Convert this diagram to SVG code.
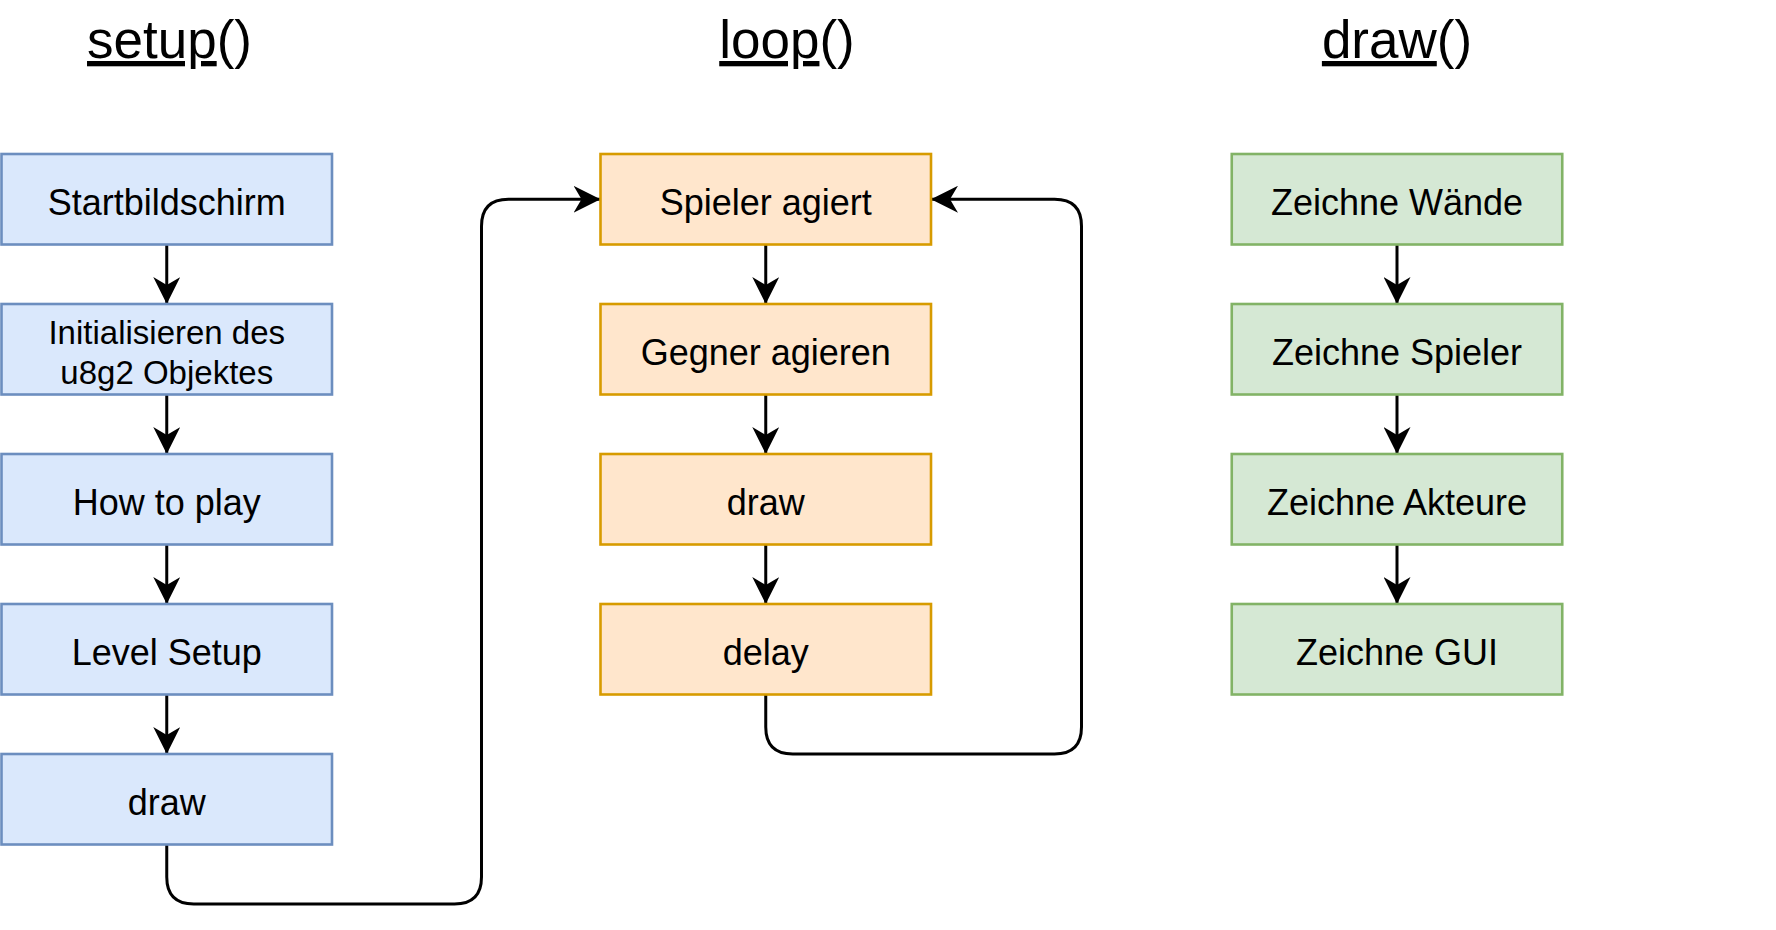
<svg xmlns="http://www.w3.org/2000/svg" width="1776" height="930" viewBox="0 0 1776 930">
<style>
text{font-family:"Liberation Sans",Arial,sans-serif;fill:#000;text-anchor:middle}
.t{font-size:53px}
.b{font-size:36px}
.s{font-size:33px}
.blue{fill:#dae8fc;stroke:#6c8ebf;stroke-width:2.6}
.orange{fill:#ffe6cc;stroke:#d79b00;stroke-width:2.6}
.green{fill:#d5e8d4;stroke:#82b366;stroke-width:2.6}
.c{fill:none;stroke:#000;stroke-width:3;marker-end:url(#arr)}
</style>
<defs>
<marker id="arr" markerUnits="userSpaceOnUse" viewBox="0 0 27 27" markerWidth="27" markerHeight="27" refX="27" refY="13.5" orient="auto">
<path d="M0,0 L27,13.5 L0,27 L8,13.5 Z" fill="#000"/>
</marker>
</defs>
<rect width="1776" height="930" fill="#fff"/>
<g id="titles">
<text class="t" x="169.5" y="58"><tspan text-decoration="underline">setup</tspan>()</text>
<text class="t" x="787" y="58"><tspan text-decoration="underline">loop</tspan>()</text>
<text class="t" x="1397" y="58"><tspan text-decoration="underline">draw</tspan>()</text>
</g>
<g id="connectors">
<path class="c" d="M166.75,244.5 L166.75,304"/>
<path class="c" d="M166.75,394.5 L166.75,454"/>
<path class="c" d="M166.75,544.5 L166.75,604"/>
<path class="c" d="M166.75,694.5 L166.75,754"/>
<path class="c" d="M166.75,844.5 L166.75,877 Q166.75,904 193.75,904 L454.5,904 Q481.5,904 481.5,877 L481.5,226.25 Q481.5,199.25 508.5,199.25 L600.5,199.25"/>
<path class="c" d="M765.75,244.5 L765.75,304"/>
<path class="c" d="M765.75,394.5 L765.75,454"/>
<path class="c" d="M765.75,544.5 L765.75,604"/>
<path class="c" d="M765.75,694.5 L765.75,727 Q765.75,754 792.75,754 L1054.5,754 Q1081.5,754 1081.5,727 L1081.5,226.25 Q1081.5,199.25 1054.5,199.25 L931,199.25"/>
<path class="c" d="M1397,244.5 L1397,304"/>
<path class="c" d="M1397,394.5 L1397,454"/>
<path class="c" d="M1397,544.5 L1397,604"/>
</g>
<g id="startbildschirm"><rect class="blue" x="1.5" y="154" width="330.5" height="90.5"/><text class="b" x="166.75" y="214.5">Startbildschirm</text></g>
<g id="initialisieren"><rect class="blue" x="1.5" y="304" width="330.5" height="90.5"/><text class="s" x="166.75" y="344">Initialisieren des</text><text class="s" x="166.75" y="384">u8g2 Objektes</text></g>
<g id="howtoplay"><rect class="blue" x="1.5" y="454" width="330.5" height="90.5"/><text class="b" x="166.75" y="514.5">How to play</text></g>
<g id="levelsetup"><rect class="blue" x="1.5" y="604" width="330.5" height="90.5"/><text class="b" x="166.75" y="664.5">Level Setup</text></g>
<g id="setupdraw"><rect class="blue" x="1.5" y="754" width="330.5" height="90.5"/><text class="b" x="166.75" y="814.5">draw</text></g>
<g id="spieleragiert"><rect class="orange" x="600.5" y="154" width="330.5" height="90.5"/><text class="b" x="765.75" y="214.5">Spieler agiert</text></g>
<g id="gegneragieren"><rect class="orange" x="600.5" y="304" width="330.5" height="90.5"/><text class="b" x="765.75" y="364.5">Gegner agieren</text></g>
<g id="loopdraw"><rect class="orange" x="600.5" y="454" width="330.5" height="90.5"/><text class="b" x="765.75" y="514.5">draw</text></g>
<g id="delay"><rect class="orange" x="600.5" y="604" width="330.5" height="90.5"/><text class="b" x="765.75" y="664.5">delay</text></g>
<g id="zeichnewaende"><rect class="green" x="1231.75" y="154" width="330.5" height="90.5"/><text class="b" x="1397" y="214.5">Zeichne Wände</text></g>
<g id="zeichnespieler"><rect class="green" x="1231.75" y="304" width="330.5" height="90.5"/><text class="b" x="1397" y="364.5">Zeichne Spieler</text></g>
<g id="zeichneakteure"><rect class="green" x="1231.75" y="454" width="330.5" height="90.5"/><text class="b" x="1397" y="514.5">Zeichne Akteure</text></g>
<g id="zeichnegui"><rect class="green" x="1231.75" y="604" width="330.5" height="90.5"/><text class="b" x="1397" y="664.5">Zeichne GUI</text></g>
</svg>
